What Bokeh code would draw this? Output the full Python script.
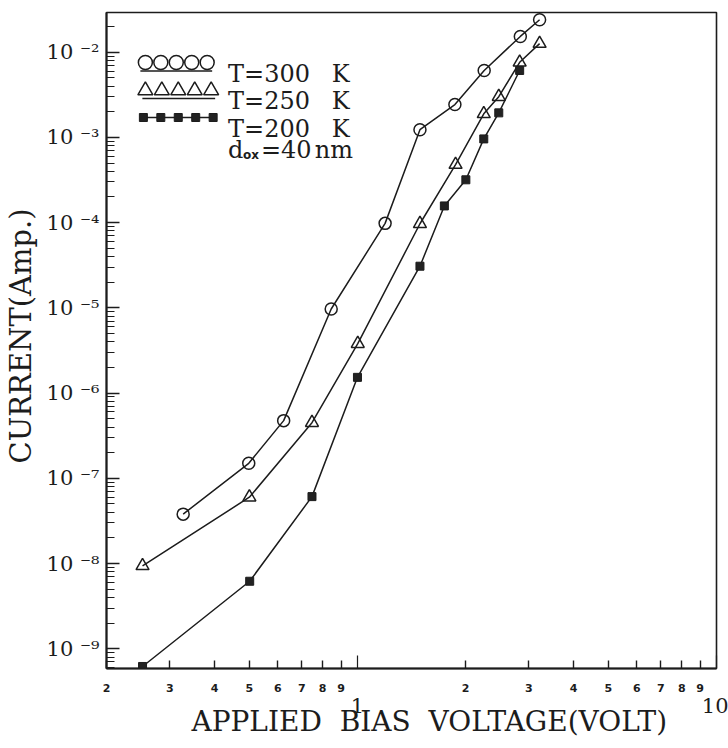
import math
from bokeh.plotting import figure
from bokeh.models import Range1d, FixedTicker, Label, LogAxis, CustomJSTickFormatter
from bokeh.embed import file_html
from bokeh.resources import INLINE

# ---------------- data ----------------
v300 = [0.327, 0.498, 0.623, 0.845, 1.194, 1.493, 1.868, 2.254, 2.842, 3.216]
i300 = [3.8e-8, 1.5e-7, 4.75e-7, 9.7e-6, 9.8e-5, 1.23e-3, 2.43e-3, 6.1e-3, 1.53e-2, 2.4e-2]
v250 = [0.252, 0.500, 0.747, 1.002, 1.493, 1.876, 2.248, 2.475, 2.83, 3.216]
i250 = [9.4e-9, 6.0e-8, 4.5e-7, 3.8e-6, 9.7e-5, 4.8e-4, 1.89e-3, 3.0e-3, 7.6e-3, 1.26e-2]
v200 = [0.252, 0.501, 0.747, 1.0, 1.493, 1.746, 2.004, 2.248, 2.475, 2.83]
i200 = [6.2e-10, 6.2e-9, 6.1e-8, 1.53e-6, 3.08e-5, 1.57e-4, 3.18e-4, 9.6e-4, 1.94e-3, 6.1e-3]

series_labels = ["T=300", "T=250", "T=200"]
unit_label = "K"
x_major_ticks = [1, 10]
x_major_labels = ["1", "10"]
x_minor_ticks = [0.2, 0.3, 0.4, 0.5, 0.6, 0.7, 0.8, 0.9, 2, 3, 4, 5, 6, 7, 8, 9]
x_minor_labels = ["2", "3", "4", "5", "6", "7", "8", "9", "2", "3", "4", "5", "6", "7", "8", "9"]
y_major_ticks = [1e-2, 1e-3, 1e-4, 1e-5, 1e-6, 1e-7, 1e-8, 1e-9]
y_tick_labels = ["10 \u207b\u00b2", "10 \u207b\u00b3", "10 \u207b\u2074", "10 \u207b\u2075",
                 "10 \u207b\u2076", "10 \u207b\u2077", "10 \u207b\u2078", "10 \u207b\u2079"]
x_title = "APPLIED\u00a0\u00a0BIAS\u00a0\u00a0VOLTAGE(VOLT)"
y_title = "CURRENT(Amp.)"

XMIN, XMAX = 0.2, 10.0
YMIN, YMAX = 5.87e-10, 2.92e-2

# ---------------- layout ----------------
W, H = 728, 748
FL, FR, FT, FB = 104, 716, 12, 668
INK = "#1c1c1c"
SERIF = "DejaVu Serif"


def dx(px):
    a, b = math.log10(XMIN), math.log10(XMAX)
    return 10 ** (a + (px - FL) / (FR - FL) * (b - a))


def dy(py):
    a, b = math.log10(YMIN), math.log10(YMAX)
    return 10 ** (b - (py - FT) / (FB - FT) * (b - a))


FMT_CODE = """
let bi = 0, bd = Infinity;
for (let i = 0; i < vals.length; i++) {
  const d = Math.abs(Math.log(vals[i]) - Math.log(tick));
  if (d < bd) { bd = d; bi = i; }
}
return bd < 1e-6 ? labs[bi] : "";
"""


def fmt(vals, labs):
    return CustomJSTickFormatter(args=dict(vals=list(vals), labs=list(labs)), code=FMT_CODE)


p = figure(width=W, height=H, x_axis_type="log", y_axis_type="log",
           x_range=Range1d(XMIN, XMAX), y_range=Range1d(YMIN, YMAX),
           output_backend="svg", toolbar_location=None,
           min_border_left=FL, min_border_right=W - FR,
           min_border_top=FT, min_border_bottom=H - FB)
p.xgrid.visible = False
p.ygrid.visible = False
p.outline_line_color = INK
p.outline_line_width = 1.6
p.background_fill_color = "white"
p.border_fill_color = "white"

y_minor = []
for e in range(-10, -1):
    for m in range(2, 10):
        y_minor.append(m * 10.0 ** e)


def style_lines(ax, maj_in, min_in):
    ax.major_tick_in = maj_in
    ax.major_tick_out = 0
    ax.minor_tick_in = min_in
    ax.minor_tick_out = 0
    ax.major_tick_line_color = INK
    ax.minor_tick_line_color = INK
    ax.major_tick_line_width = 1.4
    ax.minor_tick_line_width = 1.2
    ax.axis_line_color = INK
    ax.axis_line_width = 2


# ----- y axis: ticks + "10 ^-n" labels + title -----
ya = p.yaxis[0]
ya.ticker = FixedTicker(ticks=y_major_ticks, minor_ticks=y_minor)
ya.formatter = fmt(y_major_ticks, y_tick_labels)
style_lines(ya, 13, 8)
ya.major_label_standoff = 7
ya.major_label_text_font = SERIF
ya.major_label_text_font_size = "21px"
ya.major_label_text_color = INK
ya.axis_label = "\u00a0" + y_title
ya.axis_label_text_font = SERIF
ya.axis_label_text_font_size = "29px"
ya.axis_label_text_font_style = "normal"
ya.axis_label_text_color = INK
ya.axis_label_standoff = 6

# ----- x axis A: tick marks + small digit labels -----
xa = p.xaxis[0]
xa.ticker = FixedTicker(ticks=x_minor_ticks, minor_ticks=x_major_ticks)
xa.formatter = fmt(x_minor_ticks, x_minor_labels)
style_lines(xa, 8, 13)
xa.major_label_standoff = 15
xa.major_label_text_font = "DejaVu Sans"
xa.major_label_text_font_style = "bold"
xa.major_label_text_font_size = "11px"
xa.major_label_text_color = INK

# ----- x axis B: decade labels "1", "10" + title -----
xb = LogAxis(ticker=FixedTicker(ticks=x_major_ticks, minor_ticks=[]),
             formatter=fmt(x_major_ticks, x_major_labels))
xb.axis_line_color = None
xb.major_tick_line_color = None
xb.minor_tick_line_color = None
xb.major_tick_in = 0
xb.major_tick_out = 0
xb.major_label_standoff = 3
xb.major_label_text_font = SERIF
xb.major_label_text_font_size = "21px"
xb.major_label_text_color = INK
xb.axis_label = "\u00a0" * 4 + x_title
xb.axis_label_text_font = SERIF
xb.axis_label_text_font_size = "28px"
xb.axis_label_text_font_style = "normal"
xb.axis_label_text_color = INK
xb.axis_label_standoff = -11
p.add_layout(xb, "below")

# ---------------- data curves ----------------
p.line(v300, i300, line_color=INK, line_width=1.5)
p.scatter(v300, i300, marker="circle", size=12, fill_color=None,
          line_color=INK, line_width=1.5)
p.line(v250, i250, line_color=INK, line_width=1.5)
p.scatter(v250, i250, marker="triangle", size=13, fill_color=None,
          line_color=INK, line_width=1.5)
p.line(v200, i200, line_color=INK, line_width=1.5)
p.scatter(v200, i200, marker="square", size=8, fill_color="#222222",
          line_color=INK, line_width=1)

# ---------------- legend ----------------
leg_c_x = [dx(v) for v in (143, 158.5, 174, 189.5, 205)]
p.scatter(leg_c_x, [dy(62)] * 5, marker="circle", size=14, fill_color=None,
          line_color=INK, line_width=1.5)
p.line([dx(138), dx(210)], [dy(70.5), dy(70.5)], line_color=INK, line_width=1.5)

leg_t_x = [dx(v) for v in (143, 159.5, 176, 192.5, 209)]
p.scatter(leg_t_x, [dy(90)] * 5, marker="triangle", size=15, fill_color=None,
          line_color=INK, line_width=1.5)
p.line([dx(140), dx(213)], [dy(98), dy(98)], line_color=INK, line_width=1.5)

leg_s_x = [dx(v) for v in (141, 158.5, 176, 193.5, 211)]
p.line([leg_s_x[0], leg_s_x[-1]], [dy(117), dy(117)], line_color=INK, line_width=1.5)
p.scatter(leg_s_x, [dy(117)] * 5, marker="square", size=8, fill_color="#222222",
          line_color=INK, line_width=1)

for lab, base in zip(series_labels, (73, 100, 128)):
    p.add_layout(Label(x=dx(226), y=dy(base), text=lab, text_font=SERIF,
                       text_font_size="24px", text_color=INK,
                       text_align="left", text_baseline="alphabetic"))
    p.add_layout(Label(x=dx(330), y=dy(base), text=unit_label, text_font=SERIF,
                       text_font_size="24px", text_color=INK,
                       text_align="left", text_baseline="alphabetic"))

p.add_layout(Label(x=dx(226), y=dy(149), text="d", text_font=SERIF,
                   text_font_size="24px", text_color=INK,
                   text_align="left", text_baseline="alphabetic"))
p.add_layout(Label(x=dx(241), y=dy(154), text="ox", text_font="DejaVu Sans",
                   text_font_style="bold", text_font_size="12px", text_color=INK,
                   text_align="left", text_baseline="middle"))
p.add_layout(Label(x=dx(259), y=dy(149), text="=40", text_font=SERIF,
                   text_font_size="24px", text_color=INK,
                   text_align="left", text_baseline="alphabetic"))
p.add_layout(Label(x=dx(313), y=dy(149), text="nm", text_font=SERIF,
                   text_font_size="24px", text_color=INK,
                   text_align="left", text_baseline="alphabetic"))

open("out.html", "w").write(file_html(p, INLINE))
